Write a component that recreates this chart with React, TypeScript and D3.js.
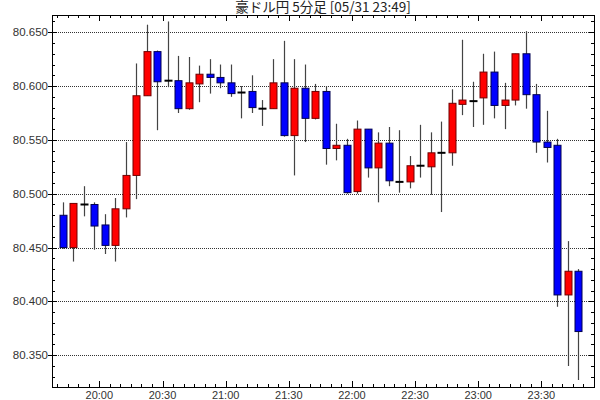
import React from "react";
import * as d3 from "d3";

const title = "豪ドル円 5分足 [05/31 23:49]";

const times = [
  "19:40","19:45","19:50","19:55","20:00","20:05","20:10","20:15","20:20","20:25",
  "20:30","20:35","20:40","20:45","20:50","20:55","21:00","21:05","21:10","21:15",
  "21:20","21:25","21:30","21:35","21:40","21:45","21:50","21:55","22:00","22:05",
  "22:10","22:15","22:20","22:25","22:30","22:35","22:40","22:45","22:50","22:55",
  "23:00","23:05","23:10","23:15","23:20","23:25","23:30","23:35","23:40","23:45",
];

const opens = [
  80.480, 80.450, 80.490, 80.490, 80.471, 80.452, 80.486, 80.517, 80.591, 80.632,
  80.605, 80.605, 80.579, 80.602, 80.611, 80.608, 80.603, 80.594, 80.595, 80.579,
  80.579, 80.603, 80.554, 80.598, 80.570, 80.595, 80.542, 80.545, 80.502, 80.560,
  80.524, 80.547, 80.511, 80.511, 80.526, 80.525, 80.538, 80.538, 80.583, 80.586,
  80.589, 80.613, 80.582, 80.587, 80.630, 80.592, 80.548, 80.545, 80.406, 80.428,
];
const highs = [
  80.492, 80.491, 80.507, 80.492, 80.481, 80.496, 80.548, 80.621, 80.657, 80.633,
  80.660, 80.628, 80.627, 80.619, 80.625, 80.620, 80.620, 80.600, 80.610, 80.587,
  80.625, 80.642, 80.625, 80.620, 80.602, 80.600, 80.565, 80.551, 80.568, 80.560,
  80.557, 80.562, 80.559, 80.535, 80.564, 80.557, 80.567, 80.597, 80.643, 80.604,
  80.630, 80.632, 80.603, 80.630, 80.651, 80.602, 80.577, 80.551, 80.456, 80.430,
];
const lows = [
  80.449, 80.437, 80.479, 80.448, 80.444, 80.437, 80.478, 80.495, 80.591, 80.559,
  80.599, 80.575, 80.578, 80.585, 80.593, 80.598, 80.590, 80.570, 80.575, 80.563,
  80.579, 80.553, 80.517, 80.548, 80.569, 80.527, 80.531, 80.500, 80.500, 80.515,
  80.492, 80.507, 80.501, 80.505, 80.515, 80.499, 80.483, 80.526, 80.573, 80.562,
  80.564, 80.570, 80.560, 80.582, 80.579, 80.538, 80.529, 80.395, 80.340, 80.327,
];
const closes = [
  80.450, 80.491, 80.490, 80.470, 80.452, 80.486, 80.517, 80.591, 80.632, 80.604,
  80.605, 80.579, 80.603, 80.611, 80.608, 80.603, 80.593, 80.594, 80.580, 80.579,
  80.603, 80.554, 80.598, 80.570, 80.595, 80.542, 80.545, 80.501, 80.560, 80.524,
  80.547, 80.512, 80.511, 80.526, 80.526, 80.538, 80.538, 80.584, 80.587, 80.586,
  80.613, 80.582, 80.587, 80.630, 80.592, 80.548, 80.543, 80.406, 80.428, 80.372,
];

const yTickLabels = ["80.350", "80.400", "80.450", "80.500", "80.550", "80.600", "80.650"];
const xTickLabels = ["20:00", "20:30", "21:00", "21:30", "22:00", "22:30", "23:00", "23:30"];

const W = 600;
const H = 400;
const left = 52;
const right = 594;
const top = 15;
const bottom = 387;

function toDate(s: string, sec = 0) {
  const [h, m] = s.split(":").map(Number);
  return new Date(2024, 4, 31, h, m, sec);
}

export default function App() {
  const x = d3
    .scaleTime()
    .domain([toDate("19:37", 30), toDate("23:55")])
    .range([left, right]);
  const y = d3.scaleLinear().domain([80.3205, 80.666]).range([bottom, top]);

  const minorX = d3.timeMinute.every(5)!.range(toDate("19:40"), toDate("23:55"));
  const minorY = d3.range(80.33, 80.666, 0.01);
  const halfBody = 3.5;

  const candles = times.map((t, i) => {
    const cx = x(new Date(toDate(t).getTime() + 150000));
    return { cx, o: opens[i], h: highs[i], l: lows[i], c: closes[i] };
  });

  const snap = (v: number) => Math.round(v) + 0.5;

  return (
    <svg
      width={W}
      height={H}
      style={{ position: "absolute", left: 0, top: 0, background: "#fff" }}
      fontFamily="'Liberation Sans', Arial, sans-serif"
    >
      <rect x={0} y={0} width={W} height={H} fill="#fff" />
      <text
        x={(left + right) / 2}
        y={12}
        textAnchor="middle"
        fontSize={13.5}
        fill="#222"
        fontFamily="'Noto Sans CJK JP', sans-serif"
      >
        {title}
      </text>

      {/* gridlines */}
      {yTickLabels.map((lab) => (
        <line
          key={"g" + lab}
          x1={left}
          x2={right}
          y1={snap(y(+lab))}
          y2={snap(y(+lab))}
          stroke="#333"
          strokeDasharray="1,1"
        />
      ))}

      {/* y minor ticks */}
      {minorY.map((v) => (
        <g key={"my" + v.toFixed(3)}>
          <line x1={left} x2={left + 3} y1={snap(y(v))} y2={snap(y(v))} stroke="#000" />
          <line x1={right - 3} x2={right} y1={snap(y(v))} y2={snap(y(v))} stroke="#000" />
        </g>
      ))}
      {/* y major ticks + labels */}
      {yTickLabels.map((lab) => (
        <g key={"yl" + lab}>
          <line x1={left - 4} x2={left + 5} y1={snap(y(+lab))} y2={snap(y(+lab))} stroke="#000" />
          <line x1={right - 5} x2={right} y1={snap(y(+lab))} y2={snap(y(+lab))} stroke="#000" />
          <text x={left - 4} y={y(+lab) + 4} textAnchor="end" fontSize={11.5} fill="#333">
            {lab}
          </text>
        </g>
      ))}

      {/* x minor ticks */}
      {minorX.map((d) => (
        <g key={"mx" + d.getTime()}>
          <line x1={snap(x(d))} x2={snap(x(d))} y1={bottom} y2={bottom - 3} stroke="#000" />
          <line x1={snap(x(d))} x2={snap(x(d))} y1={top} y2={top + 3} stroke="#000" />
        </g>
      ))}
      {xTickLabels.map((lab) => {
        const px = snap(x(toDate(lab)));
        return (
          <g key={"xl" + lab}>
            <line x1={px} x2={px} y1={bottom} y2={bottom - 6} stroke="#000" />
            <line x1={px} x2={px} y1={top} y2={top + 6} stroke="#000" />
            <text x={x(toDate(lab))} y={399} textAnchor="middle" fontSize={11} fill="#333">
              {lab}
            </text>
          </g>
        );
      })}

      {/* candles */}
      {candles.map((k, i) => {
        const up = k.c > k.o;
        const doji = k.c === k.o;
        const cx = Math.round(k.cx) + 0.5;
        const yTop = y(Math.max(k.o, k.c));
        const yBot = y(Math.min(k.o, k.c));
        return (
          <g key={"c" + i}>
            <line x1={cx} x2={cx} y1={y(k.h)} y2={y(k.l)} stroke="#444" strokeWidth={1.2} />
            {doji ? (
              <line
                x1={cx - halfBody - 0.5}
                x2={cx + halfBody + 0.5}
                y1={y(k.o)}
                y2={y(k.o)}
                stroke="#000"
                strokeWidth={2}
              />
            ) : (
              <rect
                x={cx - halfBody}
                y={yTop}
                width={halfBody * 2}
                height={Math.max(1, yBot - yTop)}
                fill={up ? "#ff0000" : "#0000ff"}
                stroke={up ? "#700000" : "#000050"}
                strokeWidth={1}
              />
            )}
          </g>
        );
      })}

      <rect
        x={left + 0.5}
        y={top + 0.5}
        width={right - left}
        height={bottom - top}
        fill="none"
        stroke="#000"
      />
    </svg>
  );
}
